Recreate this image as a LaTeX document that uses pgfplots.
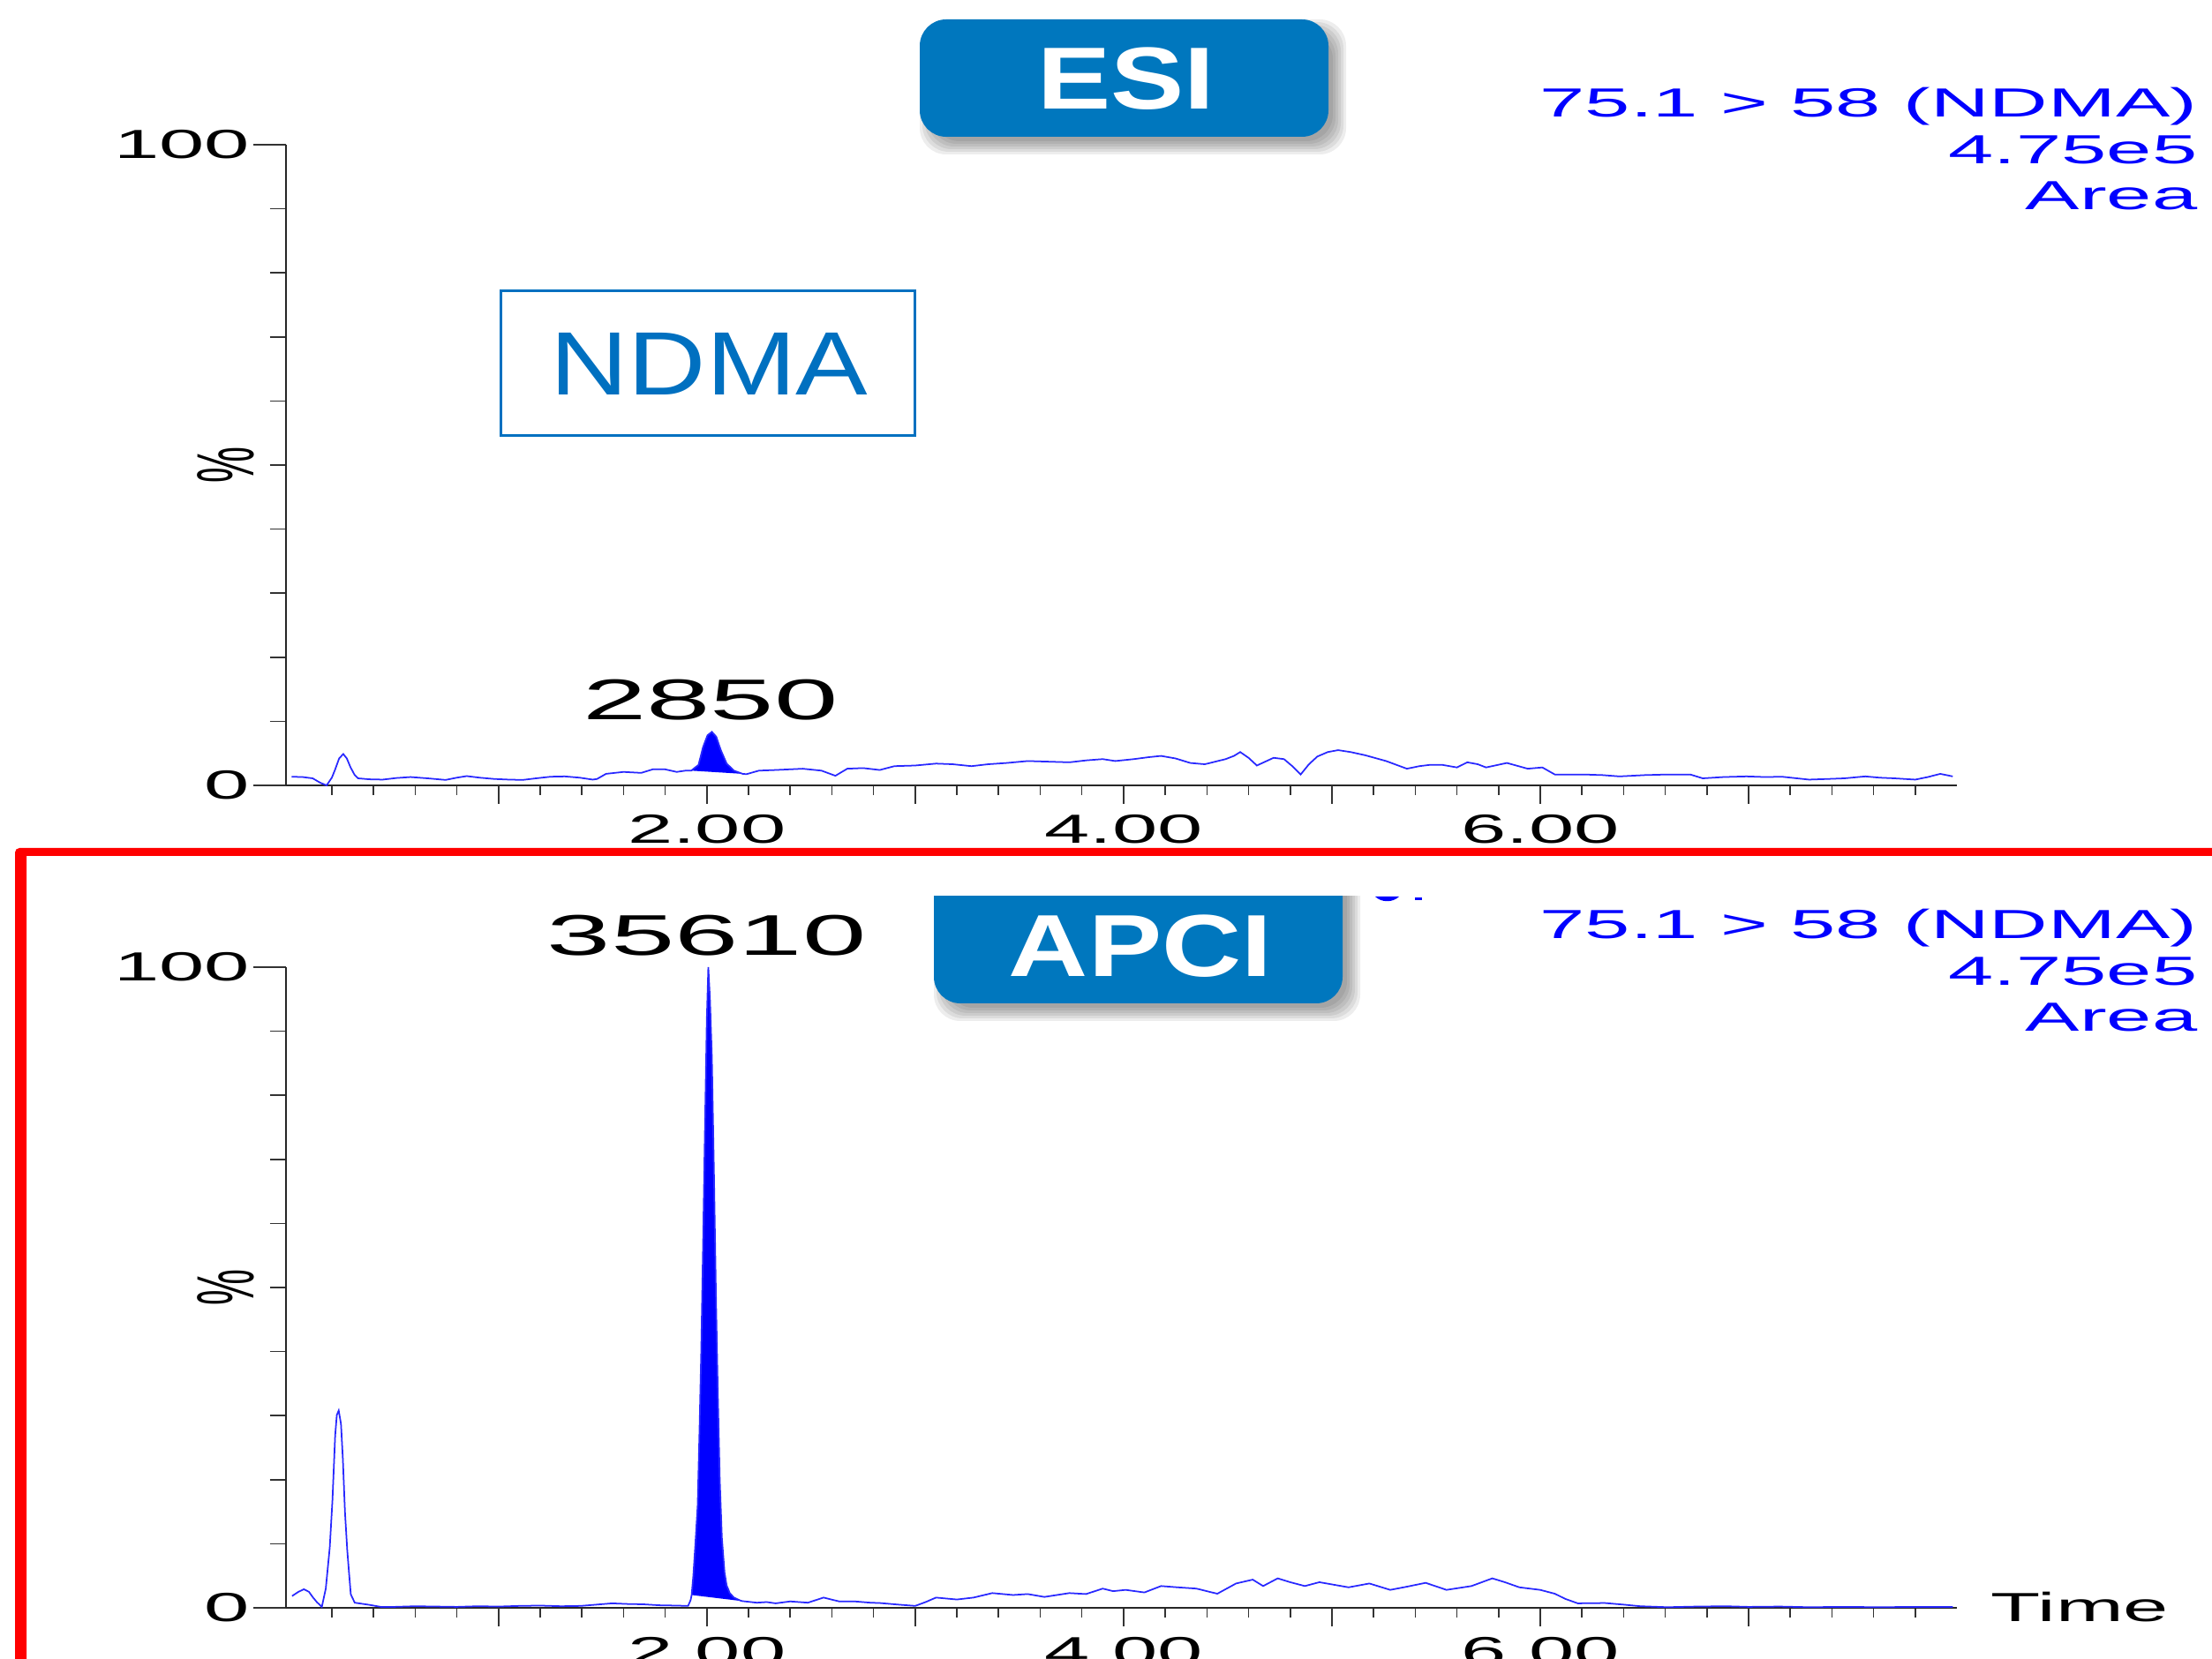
\documentclass[border=0pt]{standalone}
\usepackage{graphicx}
\usepackage{pgfplots}
\pgfplotsset{compat=1.18}
\usepackage{fontspec}
\setmainfont{Liberation Sans}
\newfontfamily\chrom[FakeStretch=2.0]{Liberation Sans}
\newfontfamily\boxf[FakeStretch=1.25]{Liberation Sans}
\newfontfamily\ndmaf[FakeStretch=1.2]{Liberation Sans}
\definecolor{boxblue}{RGB}{0,119,190}
\definecolor{ndmablue}{RGB}{0,112,192}
\definecolor{trace}{RGB}{40,40,255}
\newcommand{\chromsize}{\chrom\fontsize{13.1}{15}\selectfont}

\pgfplotsset{
  chrombase/.style={
    scale only axis, width=18.93cm, height=7.26cm,
    xmin=-0.02, xmax=8.0, ymin=0, ymax=100,
    axis line style={black!85, line width=0.45pt},
    every tick/.append style={black!80, line width=0.45pt},
    tick align=outside,
    tick label style={font=\chromsize},
    /pgf/number format/assume math mode=true,
    clip=false,
  },
  chromx/.style={
    chrombase,
    axis x line*=bottom, axis y line=none,
    xtick={2,4,6}, xticklabels={2.00,4.00,6.00},
    extra x ticks={1,3,5,7}, extra x tick labels={,,,},
    minor xtick={0.2,0.4,0.6,0.8,1.2,1.4,1.6,1.8,2.2,2.4,2.6,2.8,3.2,3.4,3.6,3.8,4.2,4.4,4.6,4.8,5.2,5.4,5.6,5.8,6.2,6.4,6.6,6.8,7.2,7.4,7.6,7.8},
    major tick length=0.21cm, minor tick length=0.11cm,
    ytick=\empty,
  },
  chromy/.style={
    chrombase,
    axis y line*=left, axis x line=none,
    ytick={0,100}, yticklabels={0,100},
    minor ytick={10,20,30,40,50,60,70,80,90},
    major tick length=0.37cm, minor tick length=0.185cm,
    yticklabel style={inner xsep=1pt},
    xtick=\empty,
    ylabel={\scalebox{2}[1]{\rotatebox{90}{\fontsize{13.1}{15}\selectfont\%}}},
    ylabel style={rotate=-90, at={(axis description cs:0,0.5)}, anchor=center, xshift=-0.68cm},
  },
}

\begin{document}
\begin{tikzpicture}
\path[use as bounding box] (0,0) rectangle (25.06,18.79);
\clip (0,0) rectangle (25.06,18.79);

% ---------- ESI panel ----------
\begin{axis}[chromx, at={(3.24cm,9.89cm)}, anchor=south west]
\addplot[fill=blue, draw=none] coordinates {
(1.925,2.3) (1.96,3.2) (1.982,6.0) (2.003,7.8) (2.024,8.35) (2.045,7.6)
(2.067,5.5) (2.095,3.4) (2.13,2.3) (2.172,1.8)};
\addplot[trace, line width=0.5pt] coordinates {
(0.007,1.35) (0.06,1.3) (0.108,1.1) (0.145,0.4) (0.175,0.0) (0.2,1.2)
(0.215,2.4) (0.235,4.2) (0.255,4.9) (0.272,4.2) (0.29,2.8) (0.31,1.6)
(0.326,1.1) (0.38,0.95) (0.444,0.9) (0.51,1.15) (0.578,1.3) (0.66,1.1)
(0.746,0.85) (0.8,1.2) (0.847,1.45) (0.91,1.2) (0.98,1.0) (1.05,0.9)
(1.116,0.85) (1.18,1.1) (1.25,1.35) (1.318,1.4) (1.39,1.2) (1.452,0.9)
(1.473,1.0) (1.516,1.8) (1.6,2.1) (1.685,1.95) (1.74,2.5) (1.80,2.5)
(1.855,2.1) (1.897,2.3) (1.925,2.3) (1.96,3.2) (1.982,6.0) (2.003,7.8)
(2.024,8.35) (2.045,7.6) (2.067,5.5) (2.095,3.4) (2.13,2.3) (2.172,1.8)
(2.19,1.75) (2.25,2.3) (2.33,2.4) (2.46,2.6) (2.55,2.3) (2.617,1.5)
(2.674,2.6) (2.75,2.7) (2.83,2.4) (2.90,3.0) (3.0,3.1) (3.10,3.4)
(3.18,3.3) (3.27,3.0) (3.35,3.3) (3.44,3.5) (3.54,3.8) (3.64,3.7)
(3.74,3.6) (3.82,3.9) (3.90,4.1) (3.96,3.8) (4.05,4.1) (4.12,4.4)
(4.18,4.6) (4.25,4.2) (4.32,3.5) (4.39,3.3) (4.49,4.1) (4.53,4.6)
(4.56,5.2) (4.60,4.3) (4.64,3.1) (4.68,3.7) (4.72,4.3) (4.77,4.1)
(4.81,3.0) (4.85,1.7) (4.89,3.3) (4.93,4.5) (4.98,5.2) (5.03,5.5)
(5.09,5.2) (5.16,4.7) (5.26,3.8) (5.31,3.2) (5.36,2.6) (5.42,3.0)
(5.47,3.2) (5.53,3.2) (5.60,2.8) (5.65,3.6) (5.70,3.3) (5.74,2.8)
(5.84,3.5) (5.94,2.6) (6.01,2.8) (6.07,1.7) (6.14,1.7) (6.21,1.7)
(6.30,1.6) (6.38,1.4) (6.50,1.6) (6.61,1.7) (6.72,1.7) (6.78,1.1)
(6.88,1.3) (6.99,1.4) (7.08,1.3) (7.16,1.35) (7.29,0.9) (7.38,1.0)
(7.46,1.1) (7.56,1.4) (7.63,1.2) (7.70,1.1) (7.80,0.9) (7.86,1.3)
(7.92,1.8) (7.98,1.4)};
\node[anchor=base, inner sep=0, font=\chrom\fontsize{18.5}{20}\selectfont] at (axis cs:2.017,10.2) {2850};
\end{axis}
\begin{axis}[chromy, at={(3.24cm,9.89cm)}, anchor=south west]
\end{axis}

% ---------- APCI panel ----------
\begin{axis}[chromx, at={(3.24cm,0.57cm)}, anchor=south west]
\addplot[fill=blue, draw=none] coordinates {
(1.927,2.0) (1.935,5) (1.945,10) (1.956,16) (1.965,28) (1.973,40)
(1.982,57) (1.99,73) (2.0,92) (2.007,100) (2.015,95) (2.024,86)
(2.034,68) (2.044,48) (2.053,33) (2.062,20) (2.072,11) (2.085,5.5)
(2.095,3.5) (2.11,2.3) (2.13,1.6) (2.16,1.15) (2.17,1.05)};
\addplot[trace, line width=0.5pt] coordinates {
(0.009,1.84) (0.04,2.5) (0.066,2.9) (0.09,2.5) (0.11,1.6) (0.128,0.9)
(0.152,0.14) (0.171,3.0) (0.19,9.4) (0.203,16.8) (0.216,26.9) (0.224,30.1)
(0.233,30.8) (0.244,28.7) (0.253,23.2) (0.263,15) (0.274,9) (0.282,5.7)
(0.291,2.1) (0.31,0.8) (0.381,0.46) (0.437,0.14) (0.5,0.15) (0.6,0.25)
(0.7,0.2) (0.8,0.15) (0.9,0.25) (1.0,0.2) (1.1,0.3) (1.2,0.35)
(1.3,0.25) (1.395,0.3) (1.47,0.5) (1.545,0.7) (1.62,0.6) (1.696,0.55)
(1.77,0.4) (1.85,0.35) (1.91,0.3) (1.922,1.2) (1.927,2.0) (1.935,5)
(1.945,10) (1.956,16) (1.965,28) (1.973,40) (1.982,57) (1.99,73)
(2.0,92) (2.007,100) (2.015,95) (2.024,86) (2.034,68) (2.044,48)
(2.053,33) (2.062,20) (2.072,11) (2.085,5.5) (2.095,3.5) (2.11,2.3)
(2.13,1.6) (2.16,1.15) (2.17,1.05) (2.24,0.8) (2.287,0.9) (2.33,0.7)
(2.4,1.0) (2.485,0.8) (2.56,1.6) (2.635,1.0) (2.71,1.0) (2.785,0.8)
(2.83,0.75) (2.92,0.5) (3.0,0.3) (3.05,0.9) (3.10,1.6) (3.2,1.3)
(3.28,1.6) (3.37,2.3) (3.47,2.0) (3.54,2.15) (3.62,1.7) (3.74,2.3)
(3.82,2.15) (3.90,3.0) (3.95,2.6) (4.01,2.8) (4.10,2.4) (4.18,3.4)
(4.26,3.2) (4.35,3.0) (4.45,2.2) (4.54,3.8) (4.62,4.4) (4.67,3.4)
(4.74,4.6) (4.80,4.0) (4.87,3.4) (4.94,4.0) (5.01,3.6) (5.08,3.2)
(5.18,3.8) (5.28,2.8) (5.36,3.3) (5.45,3.9) (5.55,2.8) (5.67,3.4)
(5.77,4.6) (5.83,4.0) (5.9,3.2) (6.0,2.8) (6.07,2.2) (6.12,1.4)
(6.18,0.7) (6.31,0.75) (6.40,0.5) (6.48,0.25) (6.61,0.1) (6.75,0.2)
(6.89,0.25) (7.0,0.15) (7.15,0.2) (7.29,0.1) (7.45,0.15) (7.63,0.1)
(7.8,0.15) (7.98,0.15)};
\node[anchor=base, inner sep=0, font=\chrom\fontsize{18.5}{20}\selectfont] at (axis cs:2.0,101.9) {35610};
\end{axis}
\begin{axis}[chromy, at={(3.24cm,0.57cm)}, anchor=south west]
\end{axis}

% ---------- text labels ----------
\foreach \yy in {0,9.31} {
  \node[anchor=base east, inner sep=0, text=blue, font=\chromsize] at (24.90,17.46-\yy) {75.1 > 58 (NDMA)};
  \node[anchor=base east, inner sep=0, text=blue, font=\chromsize] at (24.90,16.93-\yy) {4.75e5};
  \node[anchor=base east, inner sep=0, text=blue, font=\chromsize] at (24.90,16.41-\yy) {Area};
}
\node[anchor=base west, inner sep=0, font=\chromsize] at (22.55,0.42) {Time};

% ---------- ESI box ----------
\foreach \k in {0,...,5} {
  \fill[black, opacity=0.07, rounded corners=0.3cm]
    ({10.52-0.1+\k*0.03},{17.14-0.1+\k*0.03}) rectangle ({15.15+0.1-\k*0.03},{18.47+0.1-\k*0.03});
}
\fill[boxblue, rounded corners=0.3cm] (10.42,17.24) rectangle (15.05,18.57);
\node[anchor=base, inner sep=0, text=white, font=\boxf\bfseries\fontsize{28.4}{30}\selectfont] at (12.76,17.55) {ESI};

% ---------- APCI box (top cut off) ----------
\begin{scope}
\clip (0,0) rectangle (25.06,8.63);
\foreach \k in {0,...,5} {
  \fill[black, opacity=0.07, rounded corners=0.3cm]
    ({10.68-0.1+\k*0.03},{7.32-0.1+\k*0.03}) rectangle ({15.31+0.1-\k*0.03},{9.0});
}
\fill[boxblue, rounded corners=0.3cm] (10.58,7.42) rectangle (15.21,9.2);
\end{scope}
\node[anchor=base, inner sep=0, text=white, font=\boxf\bfseries\fontsize{28.4}{30}\selectfont] at (12.92,7.72) {APCI};
\fill[blue] (15.58,8.63) .. controls (15.65,8.56) and (15.78,8.56) .. (15.85,8.63) -- cycle;
\fill[blue] (16.03,8.59) rectangle (16.11,8.62);

% ---------- NDMA box ----------
\draw[ndmablue, line width=0.03cm] (5.675,13.85) rectangle (10.365,15.49);
\node[anchor=base, inner sep=0, text=ndmablue, font=\ndmaf\fontsize{29}{31}\selectfont] at (8.035,14.31) {NDMA};

% ---------- red frame ----------
\fill[red] (0.17,-0.2) [rounded corners=0.05cm] -- (0.17,9.18) [sharp corners] -- (25.3,9.18) -- (25.3,9.09) -- (0.30,9.09) -- (0.30,-0.2) -- cycle;
\end{tikzpicture}
\end{document}
